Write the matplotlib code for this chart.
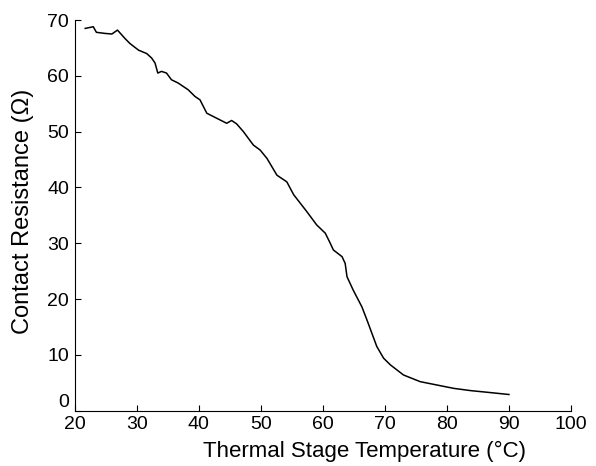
import matplotlib.pyplot as plt

plt.rcParams['font.family'] = ['Liberation Sans', 'DejaVu Sans']

# temperature (°C) and contact resistance (ohm)
temp = [21.7, 23.0, 23.5, 24.9, 26.0, 26.9, 28.1, 28.9, 30.3, 31.6, 32.4, 32.95,
        33.4, 34.0, 34.8, 35.6, 36.7, 38.3, 39.4, 40.2, 41.3, 42.9, 44.5, 45.3,
        46.1, 47.2, 48.8, 49.9, 51.0, 52.6, 54.2, 55.3, 57.4, 59.0, 60.4, 61.2,
        61.7, 63.1, 63.6, 63.9, 64.9, 66.3, 67.1, 67.9, 68.7, 69.8, 70.9, 73.0,
        75.7, 78.4, 81.1, 83.8, 86.5, 90.0]
resist = [68.5, 68.8, 67.8, 67.6, 67.5, 68.2, 66.7, 65.8, 64.6, 64.0, 63.2, 62.3,
          60.5, 60.8, 60.5, 59.3, 58.7, 57.5, 56.3, 55.7, 53.3, 52.4, 51.5, 52.0,
          51.4, 50.0, 47.6, 46.7, 45.2, 42.2, 41.0, 38.7, 35.7, 33.3, 31.8, 30.0,
          28.8, 27.6, 26.4, 24.0, 21.6, 18.6, 16.3, 13.9, 11.5, 9.4, 8.2, 6.4,
          5.2, 4.6, 4.0, 3.6, 3.3, 2.9]

xticks = [20, 30, 40, 50, 60, 70, 80, 90, 100]
yticks = [0, 10, 20, 30, 40, 50, 60, 70]

fig = plt.figure(figsize=(5.96, 4.66), dpi=100)
ax = fig.add_axes([0.1253, 0.1187, 0.8327, 0.8383])

ax.plot(temp, resist, 'k', lw=1.1)

ax.set_xlim(20, 100)
ax.set_ylim(0, 70)
ax.set_xticks(xticks)
ax.set_yticks(yticks)
ax.spines['top'].set_visible(False)
ax.spines['right'].set_visible(False)
ax.tick_params(direction='in', length=4, width=0.8, labelsize=14)
ax.tick_params(axis='y', pad=4)
ax.tick_params(axis='x', pad=4)

# lift the "0" so it sits above the x tick labels, like the original
fig.canvas.draw()
ax.get_yticklabels()[0].set_verticalalignment('bottom')

ax.set_xlabel('Thermal Stage Temperature (°C)', fontsize=16)
ax.xaxis.set_label_coords(0.583, -0.078)
ax.set_ylabel('Contact Resistance (Ω)', fontsize=17)
ax.yaxis.set_label_coords(-0.082, 0.51)

fig.savefig('out.png', dpi=100)
